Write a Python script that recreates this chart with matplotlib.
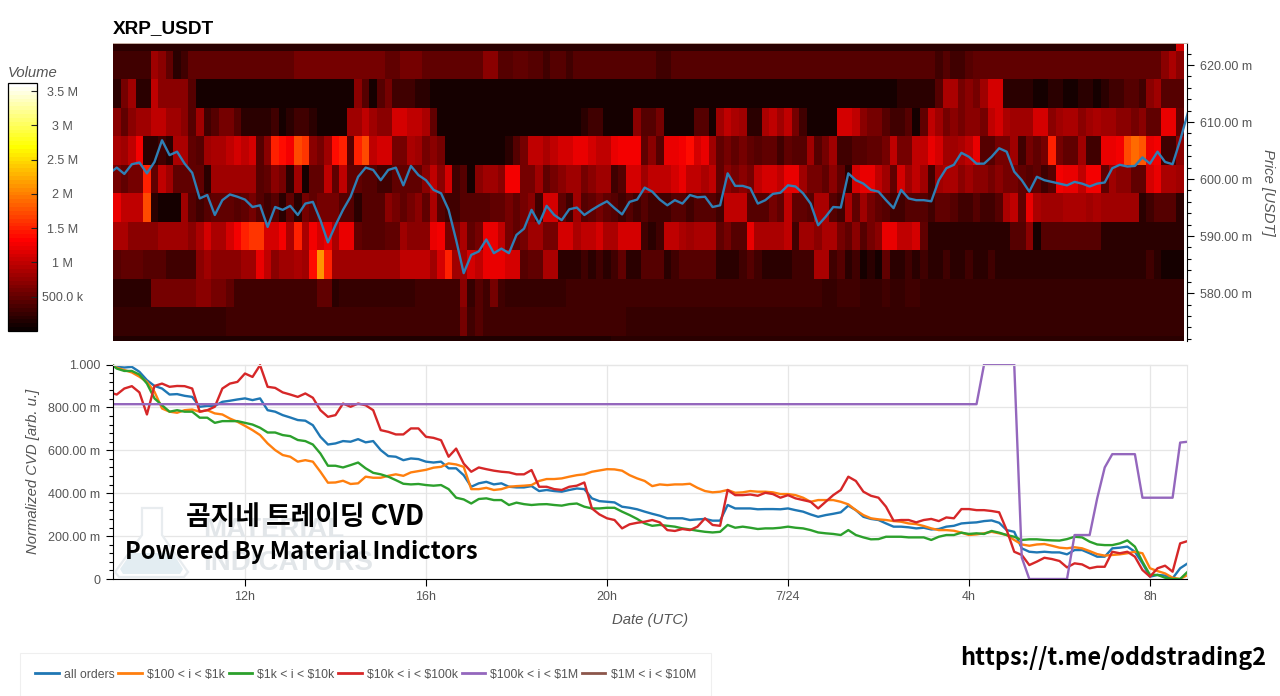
import matplotlib
matplotlib.use('Agg')
import matplotlib.pyplot as plt
import numpy as np
from matplotlib.patches import Polygon
from matplotlib.ticker import FixedLocator, FuncFormatter, MultipleLocator
from matplotlib.transforms import IdentityTransform

plt.rcParams['font.family'] = ['Liberation Sans', 'DejaVu Sans']

# heatmap volume per price row, in units of 100k, one value per 10 min column
row_prices = [625, 620, 615, 610, 605, 600, 595, 590, 585, 580, 575, 570]

vol_625 = [2]*141 + [11]
vol_620 = [3,3,3,3,3,8,7,5,2,3] + [5]*14 + [6]*12 + [5,5,6,6] + [6,5,5,5,5,5,5,5,5,7] + \
    [7,4,4,5,5,4,4,3,4,4, 3,4,4,4,4,4,4,4,4,4, 4,4,3,3,4,4,4,4,4,4] + [4]*29 + [3] + \
    [4,3,3,4] + [5]*25 + [7,9,7]
vol_615 = [2,6,8,2,2,10,7,7,7,7, 4] + [1]*21 + [7,4,1,4,6,3,3,3, 2,2] + [1]*62 + \
    [2,2,2,2,2,4, 9,9,6,7,6,8,11,11,2,2, 2,2,1,1,2,2,1,1,2,2, 1,2,3,3,4,4,3,7,8,4, 4,4]
vol_610 = [7,5,7,8,8,10,10,8,8,7, 4,8,3,4,6,6,4,2,2,2, 2,3,1,2,3,3,2,1,1,1,
    1,8,8,10,8,7,7,11,11,10, 10,9,5,1,1,1,1,1,1,1, 1,1,1,1,1,1,1,1,1,1,
    1,1,2,3,3,1,1,1,1,7, 4,4,6,1,1,1,1,4,4,1, 8,10,9,8,2,2,9,10,8,10,
    6,3,1,1,1,1,11,11,10,7, 6,6,4,3,3,4,1,5,10,8, 6,7,6,7,7,6,10,11,9,8,
    8,8,11,11,7,8,9,9,7,8, 9,8,8,7,7,6,7,5,5,12, 12,5]
vol_605 = [9,8,10,13,2,2,3,2,9,9, 5,4,8,9,9,10,11,10,11,4, 7,15,14,13,17,16,7,6,8,14,
    15,4,15,17,10,11,11,6,6,9, 8,6,7,6,1,1,1,1,1,1, 1,1,2,4,6,10,10,9,10,11,
    11,12,12,11,10,10,12,13,13,13, 5,7,4,12,12,13,14,11,12,8, 5,6,5,6,5,4,5,5,3,5,
    4,4,8,4,6,8,3,3,4,4, 5,5,6,10,6,6,10,10,12,11, 8,8,9,10,12,4,4,6,6,8,
    3,6,5,6,15,6,5,5,8,3, 3,12,12,13,17,19,18,12,13,3, 3,7]
vol_600 = [6,5,6,6,15,5,10,8,5,5, 5,5,2,8,8,8,8,8,8,4, 5,7,6,2,8,1,5,5,10,5,
    10,5,5,4,4,3,3,5,5,5, 5,7,10,7,11,3,4,1,7,8, 8,7,13,13,6,6,8,5,6,7,
    8,8,6,7,8,8,3,4,11,11, 8,10,10,10,11,12,10,10,9,10, 5,7,6,7,6,10,11,11,10,12,
    12,8,6,6,5,7,5,2,11,12, 12,10,8,5,11,8,10,8,3,8, 9,9,7,8,7,7,6,7,6,6,
    5,4,5,3,4,13,12,12,10,13, 13,5,8,7,7,5,5,11,12,9, 9,8]
vol_595 = [12,10,10,10,17,2,1,1,1,8, 4,3,4,5,5,5,4,5,6,4, 3,4,2,5,2,6,5,6,6,6,
    4,4,2,4,4,4,7,6,5,6, 7,5,9,4,3,3,4,4,4,4, 5,5,6,5,6,7,3,11,11,5,
    3,8,4,5,6,5,4,3,4,3, 4,3,3,3,4,4,3,4,4,4, 3,10,10,10,4,4,4,6,5,10,
    5,5,4,9,9,4,3,9,5,8, 6,5,4,3,3,4,4,4,3,5, 5,4,3,3,4,3,3,4,9,10,
    5,12,9,8,8,8,9,9,9,8, 9,8,8,8,8,8,2,3,4,4, 4,2]
vol_590 = [9,9,7,7,7,7,8,8,8,8, 7,9,11,9,9,11,13,15,16,16, 11,11,13,9,15,9,13,11,12,9,
    12,12,5,4,4,4,5,5,8,7, 7,7,12,13,6,6,9,5,6,12, 12,10,6,5,6,8,8,6,6,11,
    11,9,10,10,11,9,9,11,11,11, 3,2,3,10,10,9,8,9,9,9, 5,6,4,4,12,9,9,9,9,10,
    3,8,8,7,9,9,6,5,7,4, 6,7,12,12,10,10,11,5,2,2, 2,2,2,2,2,2,2,2,2,4,
    4,7,1,4,4,4,4,4,4,4, 4,2,2,2,2,2,2,2,2,2, 2,2]
vol_585 = [4,5,5,5,4,4,4,3,3,3, 3,7,8,7,7,7,7,8,8,12, 10,7,8,8,9,8,14,21,15,8,
    8,8,8,8,8,8,8,8,10,10, 10,10,8,11,15,8,8,11,10,12, 12,12,11,11,4,5,5,9,9,2,
    2,2,3,2,3,2,3,5,2,2, 4,4,4,2,3,4,4,4,4,4, 2,2,2,3,4,3,2,2,2,2,
    3,3,3,9,9,3,4,2,3,1, 2,1,5,2,2,3,2,3,2,2, 3,2,2,3,2,2,3,2,2,2,
    2,2,2,2,2,2,2,2,2,2, 2,2,2,2,2,2,2,3,2,1, 1,1]
vol_580 = [2,2,2,2,2,6,6,6,6,6, 6,7,7,6,6,5,3,3,3,3, 3,3,3,3,3,3,3,5,5,2] + [2.5]*10 + \
    [3,3,3,3,3,3,7,2.5,4,3, 6,3,2.5,2.5,2.5,2.5,2.5,2.5,2.5,2.5] + [3]*34 + \
    [2.5,2.5,3,3,3,2.5, 2.5,2.5,3,2.5,2.5,3,3,2.5,2.5,2.5] + [2.5]*32
vol_575 = [2.5]*15 + [3]*31 + [6,3,4] + [3]*19 + [2.6]*74
vol_570 = [1.5]*66 + [2]*76

volume_rows = [vol_625, vol_620, vol_615, vol_610, vol_605, vol_600,
               vol_595, vol_590, vol_585, vol_580, vol_575, vol_570]

# price, in thousandths of USDT
price = [601.5,602.0,600.9,602.6,602.9,601.0,603.0,606.8,604.2,604.8,602.7,601.1,596.6,597.2,593.7,596.3,
    597.3,596.9,596.4,595.1,595.4,591.6,595.1,594.6,595.3,593.7,595.7,596.0,592.8,588.9,591.9,594.6,
    596.9,600.4,602.0,601.6,599.8,601.6,602.0,598.9,602.3,600.7,599.8,598.1,597.5,594.6,589.3,583.5,
    586.7,587.3,589.4,587.0,587.8,587.0,590.2,591.3,594.6,592.2,595.3,593.7,592.8,594.7,595.0,593.7,
    594.6,595.4,596.1,594.9,593.8,596.0,596.4,598.5,597.8,596.4,595.4,596.3,595.7,597.2,596.8,596.9,
    595.1,595.4,601.0,598.8,598.8,598.4,595.7,596.3,597.4,597.6,598.9,598.7,597.5,595.7,591.9,593.4,
    595.1,595.0,601.0,599.8,599.2,598.1,597.8,596.3,594.9,598.1,596.6,596.3,596.3,596.1,599.8,601.9,
    602.5,604.6,603.9,602.7,602.7,603.9,605.4,604.8,601.3,599.8,597.8,600.4,599.8,599.5,599.2,598.9,
    599.5,599.2,598.7,599.2,599.4,601.9,602.5,602.2,602.3,603.8,602.7,604.8,603.0,602.6,606.8,611.5]

# normalized CVD, in thousandths
cvd_all = [995,989,986,989,966,927,900,888,860,862,854,849,803,807,807,826,831,837,842,834,842,787,780,764,
    753,741,738,717,663,627,632,643,640,652,637,643,601,573,570,554,562,559,547,543,547,516,516,484,
    430,446,453,441,446,430,427,427,433,410,415,410,407,415,422,419,376,363,360,357,337,332,325,314,
    304,295,283,283,283,275,278,280,272,272,345,329,329,329,325,326,326,325,329,321,314,301,290,298,
    304,311,342,321,290,280,275,259,244,244,241,236,239,231,233,244,248,259,262,264,270,273,262,228,
    220,143,127,124,127,124,124,115,135,135,120,104,104,143,146,151,127,73,11,19,16,3,50,73]
cvd_100_1k = [995,985,974,963,943,919,873,795,780,775,787,790,780,787,772,767,748,733,714,694,671,632,601,578,
    570,547,554,547,500,449,450,458,443,446,477,472,472,481,488,481,497,503,509,519,523,539,534,523,
    419,419,425,415,419,430,433,435,438,457,466,466,469,477,484,488,500,506,512,511,505,484,469,457,
    433,441,438,441,441,444,425,410,404,407,415,402,404,410,407,407,404,396,396,391,379,360,368,368,
    368,360,348,321,298,283,278,275,270,267,259,256,247,236,228,228,225,216,205,208,213,220,213,205,
    182,161,155,161,163,155,146,143,148,143,130,116,109,112,115,120,127,120,50,37,26,6,0,19]
cvd_1k_10k = [995,981,970,970,953,911,842,810,780,787,780,780,752,752,728,736,736,736,728,720,705,683,683,671,
    666,648,643,627,585,528,528,520,531,543,516,495,488,477,461,444,441,443,438,435,438,419,379,371,
    352,373,376,368,368,345,356,349,345,348,349,345,342,349,352,337,329,329,332,332,314,298,280,259,
    248,252,248,244,236,231,225,220,217,220,252,239,244,239,233,236,236,239,244,239,236,228,217,213,
    210,205,228,205,194,185,186,197,197,197,194,194,194,182,197,205,205,216,210,213,210,224,216,205,
    197,182,185,185,182,180,179,186,197,194,174,161,158,158,166,180,151,81,19,19,6,0,0,34]
cvd_10k_100k = [865,860,888,899,870,767,900,911,896,900,899,888,780,787,803,888,911,919,958,942,997,896,891,870,
    860,849,865,845,787,756,764,818,803,818,810,787,694,686,674,674,702,702,663,658,647,570,608,538,
    500,520,512,505,500,497,488,488,508,430,430,419,415,430,435,450,329,301,283,275,236,255,262,267,
    275,264,228,224,233,228,244,283,252,248,415,391,391,394,388,402,396,379,391,376,368,360,329,360,
    391,415,477,457,407,388,379,337,272,275,275,264,275,280,270,287,283,326,326,321,321,317,311,228,
    127,112,65,81,99,93,84,54,73,68,50,57,57,127,120,127,104,42,11,50,62,34,166,177]
cvd_100k_1m = [815]*116 + [1000]*5 + [100] + [0]*6 + [205]*3 + [376,520] + [582]*4 + [379]*5 + [636,640]
cvd_1m_10m = []

series = [(r'all orders', cvd_all, '#1f77b4'),
          (r'\$100 < i < \$1k', cvd_100_1k, '#ff7f0e'),
          (r'\$1k < i < \$10k', cvd_1k_10k, '#2ca02c'),
          (r'\$10k < i < \$100k', cvd_10k_100k, '#d62728'),
          (r'\$100k < i < \$1M', cvd_100k_1m, '#9467bd'),
          (r'\$1M < i < \$10M', cvd_1m_10m, '#8c564b')]

hour_ticks = [12, 16, 20, 24, 28, 32]
hour_labels = ['12h', '16h', '20h', '7/24', '4h', '8h']
price_ticks = [580, 590, 600, 610, 620]
cvd_ticks = [0, 200, 400, 600, 800, 1000]
vol_ticks = [0.5e6, 1e6, 1.5e6, 2e6, 2.5e6, 3e6, 3.5e6]
vol_labels = ['500.0 k', '1 M', '1.5 M', '2 M', '2.5 M', '3 M', '3.5 M']

W, H = 1280, 696
GRAY = '#555555'


def box(left, top, right, bottom):
    return [left / W, 1 - bottom / H, (right - left) / W, (bottom - top) / H]


fig = plt.figure(figsize=(W / 100, H / 100), dpi=100)
ax1 = fig.add_axes(box(113, 43, 1187, 341))
ax2 = fig.add_axes(box(113, 364.5, 1187, 579))
cax = fig.add_axes(box(7.5, 83, 36.5, 331))

t_start = 12 - 132 / 45.25
t_end = 12 + 942 / 45.25
n_cols = len(vol_625)
t_edges = t_start + np.arange(n_cols + 1) / 6
y_edges = np.arange(len(row_prices) + 1) * -5 + 627.5
t_line = np.concatenate([[t_start], t_start + (np.arange(n_cols + 1) + 0.5) / 6])

# heatmap
volume = np.array(volume_rows) * 1e5
mesh = ax1.pcolormesh(t_edges, y_edges, volume, cmap=plt.get_cmap('hot', 64), vmin=0, vmax=3.62e6, linewidth=0, rasterized=True)
ax1.plot(t_line, price, color='#2f7fb5', lw=1.7)
ax1.set_xlim(t_start, t_end)
ax1.set_ylim(571.6, 623.86)
ax1.set_title('XRP_USDT', loc='left', fontsize=13.7, fontweight='bold', pad=7)
ax1.xaxis.set_visible(False)
ax1.yaxis.tick_right()
ax1.yaxis.set_major_locator(FixedLocator(price_ticks))
ax1.yaxis.set_minor_locator(MultipleLocator(2))
ax1.yaxis.set_major_formatter(FuncFormatter(lambda v, p: '%.2f m' % v))
ax1.tick_params(axis='y', which='major', length=5, width=0.8, color='black', labelcolor=GRAY, labelsize=9, pad=4)
ax1.tick_params(axis='y', which='minor', length=3, width=0.8, color='black')
ax1.yaxis.set_label_position('right')
ax1.set_ylabel('Price [USDT]', rotation=-90, style='italic', fontsize=10.7, color=GRAY, labelpad=17)
for name in ['left', 'bottom']:
    ax1.spines[name].set_visible(False)
ax1.spines['top'].set_color('#c9b3a8')
ax1.spines['top'].set_linewidth(0.7)
ax1.spines['right'].set_color('black')

# colorbar
cbar = fig.colorbar(mesh, cax=cax)
cbar.set_ticks(vol_ticks)
cbar.set_ticklabels(vol_labels)
cbar.minorticks_off()
cax.tick_params(direction='in', length=4.5, width=0.8, color='#222222', labelcolor=GRAY, labelsize=9)
for label in cax.get_yticklabels():
    label.set_ha('center')
cax.tick_params(axis='y', pad=18.5)
cbar.outline.set_edgecolor('black')
cbar.outline.set_linewidth(0.9)
fig.text(8 / W, 1 - 73 / H, 'Volume', style='italic', fontsize=10.7, color=GRAY, va='center')

# watermark behind the CVD lines
flask_outline = [(142, 508), (162, 508), (162, 535), (188, 572), (184, 577), (119, 577), (115, 572), (142, 535)]
flask_liquid = [(131, 553), (173, 553), (183, 569), (180, 574), (123, 574), (120, 569)]
fig.add_artist(Polygon([(x, H - y) for x, y in flask_outline], closed=True, transform=IdentityTransform(),
                       facecolor='white', edgecolor='#e8ecef', linewidth=1.6, zorder=0.5))
fig.add_artist(Polygon([(x, H - y) for x, y in flask_liquid], closed=True, transform=IdentityTransform(),
                       facecolor='#e3edf2', edgecolor='none', zorder=0.55))

# CVD panel
ax2.patch.set_alpha(0)
handles = []
for label, values, color in series:
    line, = ax2.plot(t_line[:len(values)], values, color=color, lw=1.7, label=label, solid_joinstyle='round')
    handles.append(line)
ax2.set_xlim(t_start, t_end)
ax2.set_ylim(0, 1000)
ax2.set_xticks(hour_ticks)
ax2.set_xticklabels(hour_labels)
ax2.set_yticks(cvd_ticks)
ax2.yaxis.set_minor_locator(MultipleLocator(40))
ax2.yaxis.set_major_formatter(FuncFormatter(lambda v, p: '0' if v == 0 else ('1.000' if v == 1000 else '%.2f m' % v)))
ax2.grid(True, color='#e6e6e6', lw=0.9)
ax2.set_axisbelow(True)
ax2.tick_params(axis='both', which='major', length=5, width=0.8, color='black', labelcolor=GRAY, labelsize=9, pad=4)
ax2.tick_params(axis='y', which='minor', length=3, width=0.8, color='black')
ax2.set_xlabel('Date (UTC)', style='italic', fontsize=10.7, color=GRAY, labelpad=7)
ax2.set_ylabel('Normalized CVD [arb. u.]', style='italic', fontsize=10.7, color=GRAY, labelpad=6)
ax2.spines['top'].set_color('#e6e6e6')
ax2.spines['right'].set_color('#e6e6e6')

# annotations pasted over the chart
mark_style = dict(fontweight='bold', color='#e2e6e9', zorder=0.6, va='center', ha='left')
fig.text(203 / W, 1 - 530 / H, 'MATERIAL', fontsize=20, **mark_style)
fig.text(203 / W, 1 - 563 / H, 'INDICATORS', fontsize=20, **mark_style)
note = dict(family=['Noto Sans CJK KR', 'DejaVu Sans'], fontweight='bold', color='black', va='center')
fig.text(305 / W, 1 - 517 / H, '곰지네 트레이딩 CVD', fontsize=19.3, ha='center', **note)
fig.text(125 / W, 1 - 552 / H, 'Powered By Material Indictors', fontsize=17.1, ha='left', **note)
fig.text(960 / W, 1 - 658 / H, 'https://t.me/oddstrading2', fontsize=16.9, ha='left', **note)

# legend
leg = fig.legend(handles=handles, loc='lower left', bbox_to_anchor=(20 / W, 0), ncol=6, frameon=True, fancybox=False,
                 fontsize=8.8, handlelength=1.9, handletextpad=0.45, columnspacing=0.3, borderpad=1.25,
                 labelcolor=GRAY, edgecolor='#ececec', borderaxespad=0)
leg.get_frame().set_linewidth(0.8)
for h in leg.get_lines():
    h.set_linewidth(2.0)

plt.savefig('out.png', dpi=100)
plt.close('all')
